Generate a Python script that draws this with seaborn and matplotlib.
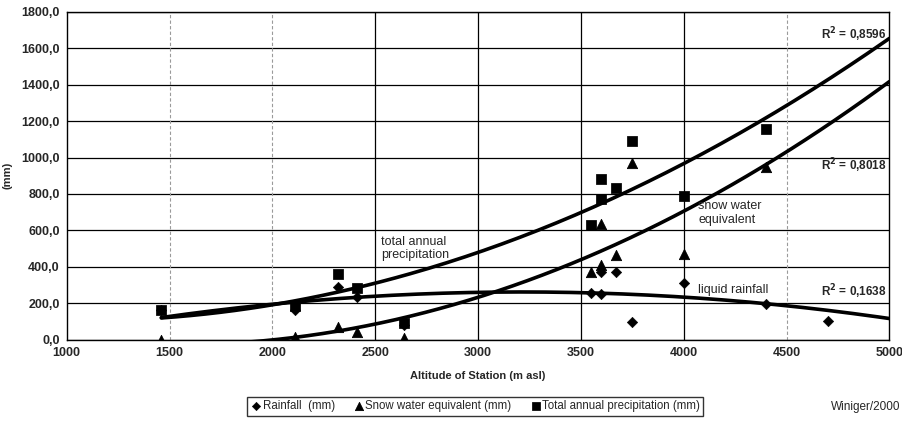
import numpy as np
import pandas as pd
import matplotlib
matplotlib.use('Agg')
import matplotlib.pyplot as plt
import seaborn as sns

sns.set_style('white')
plt.rcParams['font.family'] = ['Liberation Sans', 'DejaVu Sans']
plt.rcParams['font.weight'] = 'bold'

# station altitudes (m asl) and measured values (mm)
rain_alt = [1460, 2110, 2320, 2410, 2640, 3550, 3600, 3600, 3670, 3750, 4000, 4400, 4700]
rain_mm = [165, 165, 290, 235, 80, 255, 250, 370, 373, 99, 313, 198, 104]

snow_alt = [1460, 2110, 2320, 2410, 2640, 3550, 3600, 3600, 3670, 3750, 4000, 4400]
snow_mm = [0, 15, 70, 45, 10, 370, 635, 410, 466, 971, 472, 950]

total_alt = [1460, 2110, 2320, 2410, 2640, 3550, 3600, 3600, 3670, 3750, 4000, 4400]
total_mm = [165, 185, 360, 285, 90, 630, 885, 775, 834, 1092, 790, 1155]

r2_labels = ['R$^2$ = 0,8596', 'R$^2$ = 0,8018', 'R$^2$ = 0,1638']

rain_df = pd.DataFrame({'alt': rain_alt, 'mm': rain_mm})
snow_df = pd.DataFrame({'alt': snow_alt, 'mm': snow_mm})
total_df = pd.DataFrame({'alt': total_alt, 'mm': total_mm})

fig, ax = plt.subplots(figsize=(9.02, 4.21), dpi=100)
fig.subplots_adjust(left=0.074, right=0.986, top=0.972, bottom=0.193)

# grid
for v in range(0, 1801, 200):
    ax.axhline(v, color='black', lw=0.9, zorder=1)
for v in [1500, 2000, 4500]:
    ax.axvline(v, color='#9a9a9a', lw=0.8, ls=(0, (3, 2)), zorder=1)
for v in [2500, 3000, 3500, 4000]:
    ax.axvline(v, color='black', lw=0.9, zorder=1)


# polynomial trendlines (order 2) like the spreadsheet
def trend(df, x0, x1):
    c = np.polyfit(df['alt'], df['mm'], 2)
    xs = np.linspace(x0, x1, 200)
    return pd.DataFrame({'alt': xs, 'mm': np.polyval(c, xs)})


for d in [total_df, snow_df, rain_df]:
    t = trend(d, 1460, 5000)
    sns.lineplot(data=t, x='alt', y='mm', ax=ax, color='black', lw=2.6, zorder=3)

sns.scatterplot(data=rain_df, x='alt', y='mm', ax=ax, marker='D', s=28, color='black',
                edgecolor='black', label='Rainfall  (mm)', zorder=4)
sns.scatterplot(data=snow_df, x='alt', y='mm', ax=ax, marker='^', s=55, color='black',
                edgecolor='black', label='Snow water equivalent (mm)', zorder=4)
sns.scatterplot(data=total_df, x='alt', y='mm', ax=ax, marker='s', s=45, color='black',
                edgecolor='black', label='Total annual precipitation (mm)', zorder=4)

ax.set_xlim(1000, 5000)
ax.set_ylim(0, 1800)
ax.set_xticks(range(1000, 5001, 500))
ax.set_yticks(range(0, 1801, 200))
ax.set_yticklabels(['{:.1f}'.format(v).replace('.', ',') for v in range(0, 1801, 200)])
ax.tick_params(labelsize=9, length=3, direction='out', color='black', pad=2)
for s in ax.spines.values():
    s.set_color('black')
    s.set_linewidth(1.0)

ax.set_xlabel('Altitude of Station (m asl)', fontsize=8, fontweight='bold', labelpad=9)
ax.set_ylabel('(mm)', fontsize=8, fontweight='bold', labelpad=6)

# annotations
ax.text(4985, 1675, r2_labels[0], fontsize=8.5, ha='right', va='center')
ax.text(4985, 955, r2_labels[1], fontsize=8.5, ha='right', va='center')
ax.text(4985, 262, r2_labels[2], fontsize=8.5, ha='right', va='center')
ax.text(2528, 500, 'total annual\nprecipitation', fontsize=9, ha='left', va='center',
        fontweight='normal', linespacing=1.15)
ax.text(4070, 695, 'snow water\nequivalent', fontsize=9, ha='left', va='center',
        fontweight='normal', linespacing=1.15)
ax.text(4070, 275, 'liquid rainfall', fontsize=9, ha='left', va='center',
        fontweight='normal')

h, l = ax.get_legend_handles_labels()
ax.get_legend().remove()
leg = fig.legend(h, l, loc='center', bbox_to_anchor=(0.527, 0.035), ncol=3, fontsize=8.3,
                 frameon=True, fancybox=False, edgecolor='black', handletextpad=0.05,
                 columnspacing=1.6, handlelength=1.0, borderpad=0.3, markerscale=0.8)
leg.get_frame().set_linewidth(1.0)
for t in leg.get_texts():
    t.set_fontweight('normal')

fig.text(0.998, 0.033, 'Winiger/2000', fontsize=8.5, ha='right', va='center',
         fontweight='normal')

fig.savefig('out.png', dpi=100)
